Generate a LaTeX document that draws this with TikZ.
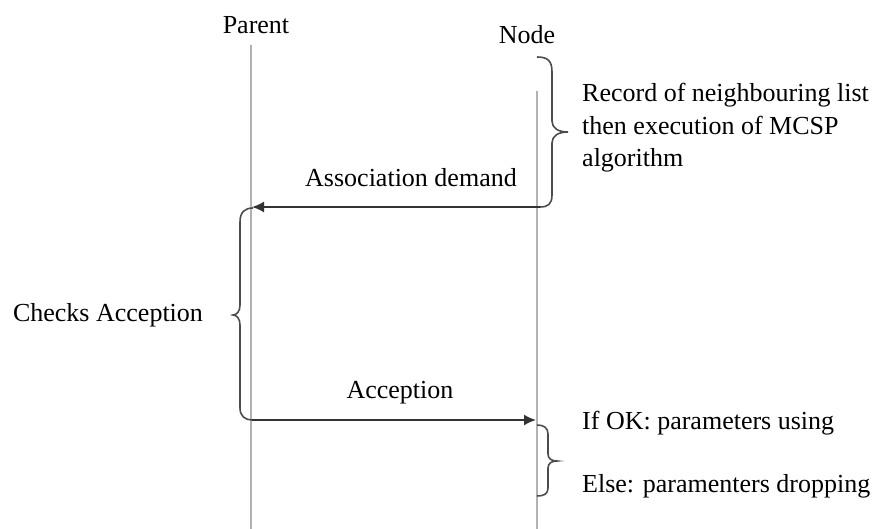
\documentclass[tikz,border=0pt]{standalone}
\usepackage{fontspec}
\setmainfont{Liberation Serif}
\usetikzlibrary{arrows.meta}
\begin{document}
\begin{tikzpicture}[x=1pt,y=-1pt]

    \tikzset{lifeline/.style={draw=gray!60,line width=2.8pt},
             msg/.style={draw=black!80,line width=1.7pt,-{Latex[length=12pt,width=11pt]}},
             curly/.style={draw=black!70,line width=1.6pt},
             lbl/.style={font=\fontsize{26}{32.5}\selectfont,inner sep=0pt}}
    \useasboundingbox (0,0) rectangle (883,529);

    % Lifelines
    \node[lbl] (parent) at (256,25) {Parent};
    \node[lbl] (node) at (527,35) {Node};
    \coordinate (p1) at (251,45);
    \coordinate (p2) at (251,529);
    \coordinate (n1) at (537,91);
    \coordinate (n2) at (537,529);
    \draw[lifeline] (p1) -- (p2);
    \draw[lifeline] (n1) -- (n2);

    % Record of the list then demand
    \coordinate (b1) at (537,57);
    \coordinate (a1) at (540,207);
    \coordinate (a2) at (252,207);
    \draw[curly] (b1) .. controls (548,57) and (552,61) .. (552,72) -- (552,121)
        .. controls (552,128) and (558,132) .. (568,132)
        .. controls (558,132) and (552,136) .. (552,143) -- (552,195)
        .. controls (552,204) and (548,207) .. (a1);
    \draw[msg] (a1) -- (a2);
    \node[lbl,align=left,anchor=west] (record) at (582,128)
        {Record of neighbouring list\\then execution of MCSP\\algorithm};
    \node[lbl] (assoc) at (411,178) {Association demand};

    % Check on the parent side
    \coordinate (c1) at (253,208);
    \coordinate (c2) at (252,420);
    \draw[curly] (c1) .. controls (245,208) and (240,212) .. (240,222) -- (240,305)
        .. controls (240,311) and (237,315) .. (233,315)
        .. controls (237,315) and (240,319) .. (240,325) -- (240,408)
        .. controls (240,416) and (245,420) .. (c2);
    \node[lbl] (checks) at (108,315) {Checks Acception};

    % Answer
    \coordinate (r1) at (536,420);
    \draw[msg] (c2) -- (r1);
    \node[lbl] (accept) at (400,393) {Acception};

    \coordinate (d1) at (537,425);
    \coordinate (d2) at (537,496);
    \draw[curly] (d1) .. controls (544,425) and (548,428) .. (548,434) -- (548,454)
        .. controls (548,459) and (552,461) .. (557,461)
        .. controls (552,461) and (548,463) .. (548,468) -- (548,488)
        .. controls (548,494) and (544,496) .. (d2);
    \node[lbl,anchor=west] (ifok) at (582,423) {If OK: parameters using};
    \node[lbl,anchor=west] (elsedrop) at (582,486) {Else: paramenters dropping};

\end{tikzpicture}
\end{document}
